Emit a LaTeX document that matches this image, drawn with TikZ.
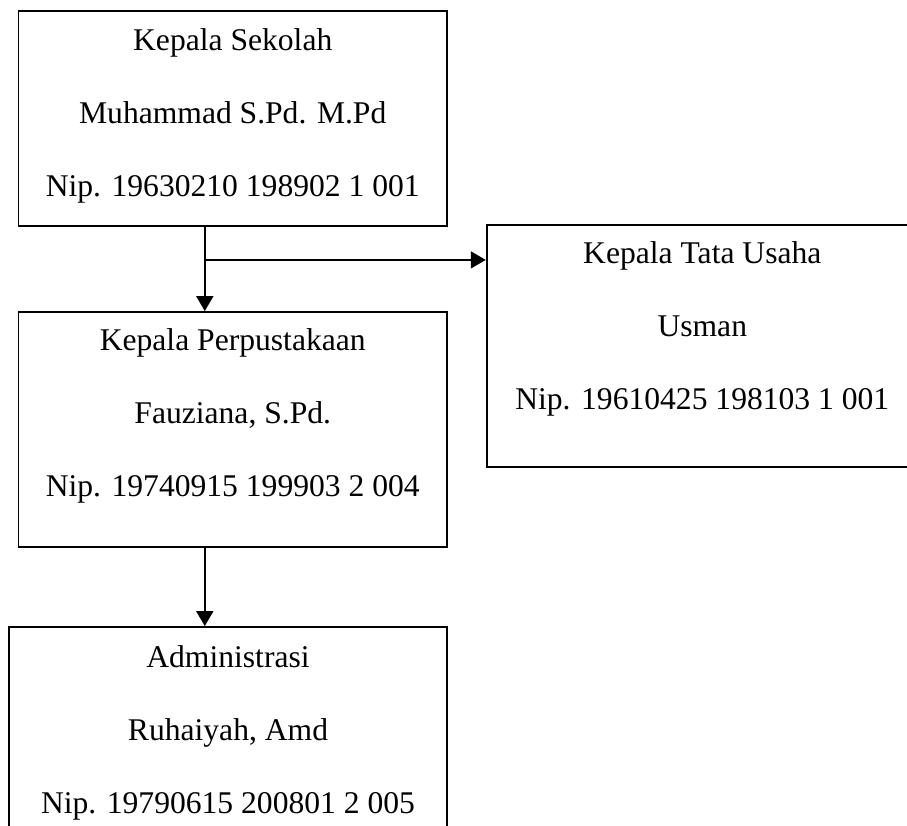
\documentclass[tikz,border=0pt]{standalone}
\usepackage{fontspec}
\setmainfont{Liberation Serif}
\usetikzlibrary{
  calc,
  positioning,
  arrows.meta
}
\tikzset{
>={Triangle[length=7.5pt,width=8.5pt]},
box/.style={draw, line width=0.9pt, inner sep=0pt},
isi/.style={inner sep=0pt, align=center, font=\fontsize{15.8}{36.5}\selectfont}
}

\begin{document}
\begin{tikzpicture}[x=0.5pt, y=-0.5pt, line width=0.9pt]
 \clip (0,0) rectangle (907,826);
 % kotak
 \node[box, minimum width=214.25pt, minimum height=107.5pt] (ks) at (232.75,118.5) {};
 \node[box, minimum width=214.25pt, minimum height=117.5pt] (kp) at (232.75,429.5) {};
 \node[box, minimum width=215.65pt, minimum height=121pt] (tu) at (702.3,346) {};
 \node[box, minimum width=219pt, minimum height=120pt] (adm) at (228,747) {};
 % isi kotak
 \node[isi, below=8.7pt of ks.north] (ks-isi) {Kepala Sekolah\\Muhammad S.Pd. M.Pd\\Nip. 19630210 198902 1 001};
 \node[isi, below=8.2pt of kp.north] (kp-isi) {Kepala Perpustakaan\\Fauziana, S.Pd.\\Nip. 19740915 199903 2 004};
 \node[isi, below=8.2pt of tu.north] (tu-isi) {Kepala Tata Usaha\\Usman\\Nip. 19610425 198103 1 001};
 \node[isi, below=9.2pt of adm.north] (adm-isi) {Administrasi\\Ruhaiyah, Amd\\Nip. 19790615 200801 2 005};
 % garis
 \coordinate (cab) at ($(ks.south west)!0.435!(ks.south east)$);
 \coordinate (split) at ($(cab)+(0,33)$);
 \draw[->] (cab) -- (cab |- kp.north);
 \draw[->] (split) -- (split -| tu.west);
 \draw[->] (kp.south -| cab) -- (adm.north -| cab);
\end{tikzpicture}
\end{document}
